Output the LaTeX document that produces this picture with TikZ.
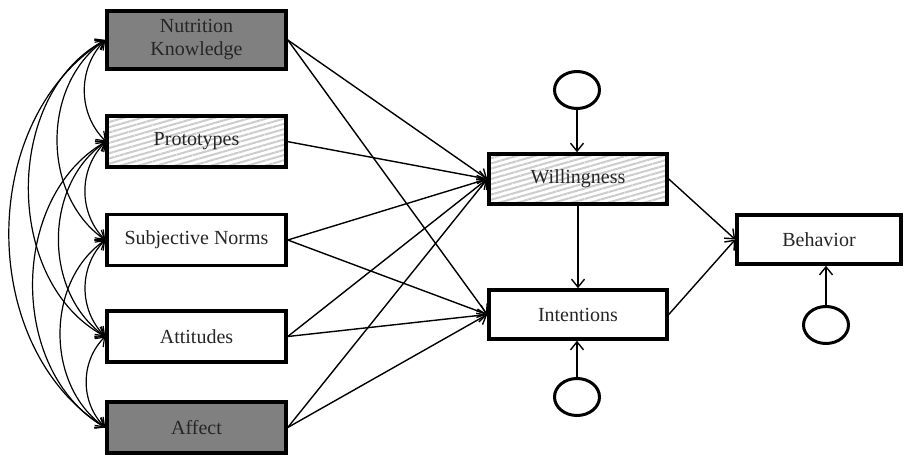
\documentclass[tikz,border=0pt]{standalone}
\usepackage{fontspec}
\setmainfont{Liberation Serif}
\usetikzlibrary{arrows.meta,patterns.meta,shapes.geometric}
\begin{document}
\begin{tikzpicture}[x=1pt,y=-1pt,
  box/.style={draw, line width=3.5pt, minimum width=179pt, minimum height=51pt, inner sep=0pt, align=center, font=\fontsize{20}{23}\selectfont, text=black!85},
  dark/.style={fill=black!50},
  hatch/.style={pattern={Lines[angle=16,distance=5pt,line width=2pt]}, pattern color=black!20},
  err/.style={draw, ellipse, line width=3pt, minimum width=45pt, minimum height=37pt, inner sep=0pt},
  arr/.style={line width=1.4pt, -{Straight Barb[length=8pt,width=13pt,line width=1.4pt]}},
  cov/.style={line width=1.2pt, {Straight Barb[length=8pt,width=12pt,line width=1.2pt]}-{Straight Barb[length=8pt,width=12pt,line width=1.2pt]}}
]
\useasboundingbox (0,0) rectangle (905,455);
% left column
\node[box, dark, minimum height=58pt] (nk) at (196.5,40) {Nutrition\\Knowledge};
\node[box, hatch] (pr) at (196.5,141.5) {Prototypes};
\node[box] (sn) at (196.5,240) {Subjective Norms};
\node[box] (at) at (196.5,336.5) {Attitudes};
\node[box, dark] (af) at (196.5,427.5) {Affect};
% middle
\node[box, hatch, minimum width=178pt, minimum height=50pt] (wi) at (578,179) {Willingness};
\node[box, minimum width=178pt, minimum height=49pt] (in) at (578,314.5) {Intentions};
% right
\node[box, minimum width=164pt, minimum height=49pt] (be) at (819,239.5) {Behavior};
% error terms
\node[err] (e1) at (577,90) {};
\node[err] (e2) at (577,397) {};
\node[err] (e3) at (826,325) {};
% paths
\draw[arr] (nk.east) -- (wi.west);
\draw[arr] (nk.east) -- (in.west);
\draw[arr] (pr.east) -- (wi.west);
\draw[arr] (sn.east) -- (wi.west);
\draw[arr] (sn.east) -- (in.west);
\draw[arr] (at.east) -- (wi.west);
\draw[arr] (at.east) -- (in.west);
\draw[arr] (af.east) -- (wi.west);
\draw[arr] (af.east) -- (in.west);
\draw[arr] (wi) -- (in);
\draw[arr] (wi.east) -- (be.west);
\draw[arr] (in.east) -- (be.west);
\draw[arr] (e1) -- (e1|-wi.north);
\draw[arr] (e2) -- (e2|-in.south);
\draw[arr] (e3) -- (e3|-be.south);
% covariances
\draw[cov] (nk.west) to[bend right=45] (pr.west);
\draw[cov] (pr.west) to[bend right=45] (sn.west);
\draw[cov] (sn.west) to[bend right=45] (at.west);
\draw[cov] (at.west) to[bend right=45] (af.west);
\draw[cov] (nk.west) to[bend right=55] (sn.west);
\draw[cov] (pr.west) to[bend right=55] (at.west);
\draw[cov] (sn.west) to[bend right=55] (af.west);
\draw[cov] (nk.west) to[bend right=62] (at.west);
\draw[cov] (pr.west) to[bend right=60] (af.west);
\draw[cov] (nk.west) to[bend right=58] (af.west);
\end{tikzpicture}
\end{document}
